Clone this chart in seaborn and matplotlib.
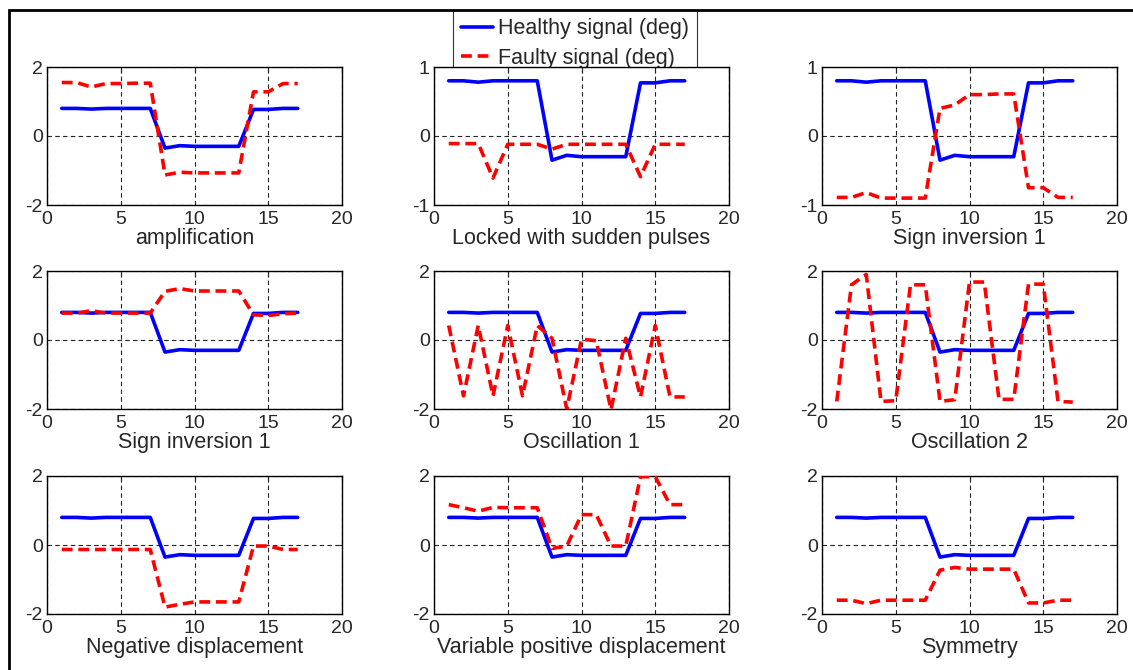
import matplotlib
matplotlib.use("Agg")
import matplotlib.pyplot as plt
import seaborn as sns
import numpy as np
from matplotlib.lines import Line2D
from matplotlib.patches import Rectangle

# sample index
x = np.arange(1, 18)

# healthy signal, same in every panel
healthy = [0.8, 0.8, 0.78, 0.8, 0.8, 0.8, 0.8, -0.35, -0.28, -0.3, -0.3, -0.3, -0.3,
           0.77, 0.77, 0.8, 0.8]

# faulty signals, one per fault type
amplification = [1.55, 1.55, 1.42, 1.52, 1.52, 1.53, 1.53, -1.13, -1.05, -1.07, -1.07,
                 -1.07, -1.07, 1.28, 1.28, 1.52, 1.52]
locked_pulses = [-0.11, -0.11, -0.11, -0.61, -0.12, -0.12, -0.12, -0.19, -0.12, -0.12,
                 -0.12, -0.12, -0.12, -0.59, -0.12, -0.12, -0.12]
sign_inv_a = [-0.89, -0.89, -0.82, -0.9, -0.9, -0.9, -0.9, 0.4, 0.45, 0.6, 0.6, 0.61,
              0.61, -0.75, -0.75, -0.89, -0.89]
sign_inv_b = [0.78, 0.78, 0.85, 0.78, 0.78, 0.78, 0.78, 1.41, 1.49, 1.42, 1.42, 1.42,
              1.42, 0.73, 0.71, 0.76, 0.78]
oscillation_1 = [0.42, -1.62, 0.42, -1.62, 0.42, -1.62, 0.42, 0.05, -2.0, 0.02, -0.02,
                 -2.02, 0.05, -1.65, 0.42, -1.65, -1.65]
oscillation_2 = [-1.78, 1.6, 1.9, -1.78, -1.76, 1.6, 1.6, -1.78, -1.73, 1.68, 1.68,
                 -1.72, -1.72, 1.62, 1.62, -1.78, -1.8]
neg_displacement = [-0.13, -0.13, -0.13, -0.13, -0.13, -0.13, -0.13, -1.8, -1.72, -1.65,
                    -1.65, -1.65, -1.65, -0.03, -0.03, -0.13, -0.13]
var_pos_displacement = [1.17, 1.08, 0.98, 1.09, 1.08, 1.08, 1.08, -0.1, -0.03, 0.88, 0.88,
                        -0.03, -0.03, 1.98, 1.98, 1.17, 1.17]
symmetry = [-1.6, -1.6, -1.7, -1.6, -1.6, -1.6, -1.6, -0.73, -0.65, -0.7, -0.7, -0.7,
            -0.7, -1.68, -1.68, -1.6, -1.6]

faulty = [amplification, locked_pulses, sign_inv_a,
          sign_inv_b, oscillation_1, oscillation_2,
          neg_displacement, var_pos_displacement, symmetry]
titles = ["amplification", "Locked with sudden pulses", "Sign inversion 1",
          "Sign inversion 1", "Oscillation 1", "Oscillation 2",
          "Negative displacement", "Variable positive displacement", "Symmetry"]
ylims = [2, 1, 1, 2, 2, 2, 2, 2, 2]

sns.set_style("white")
plt.rcParams["font.family"] = ["Liberation Sans", "DejaVu Sans"]
plt.rcParams["axes.unicode_minus"] = False

W, H = 1133, 670
fig = plt.figure(figsize=(W / 100, H / 100), dpi=100)

# outer frame
fig.patches.append(Rectangle((9 / W, -0.01), 1.02, 1 - 10 / H + 0.01, transform=fig.transFigure,
                             fill=False, edgecolor="black", linewidth=2, zorder=0))

col_left = [47, 434, 822]
row_top = [67, 271, 476]
ax_w, ax_h = 295, 138

dash = (0, (3, 1.6))
for i in range(9):
    r, c = divmod(i, 3)
    ax = fig.add_axes([col_left[c] / W, 1 - (row_top[r] + ax_h) / H, ax_w / W, ax_h / H])
    sns.lineplot(x=x, y=healthy, ax=ax, color="blue", linewidth=2.6, zorder=3)
    sns.lineplot(x=x, y=faulty[i], ax=ax, color="red", linewidth=2.6, zorder=3,
                 linestyle=dash)
    lim = ylims[i]
    ax.set_xlim(0, 20)
    ax.set_ylim(-lim, lim)
    ax.set_xticks([0, 5, 10, 15, 20])
    ax.set_yticks([-lim, 0, lim])
    ax.grid(True, color="#222222", linestyle=(0, (4, 3)), linewidth=0.8)
    ax.tick_params(direction="in", top=True, right=True, length=4, width=0.8,
                   labelsize=14)
    ax.tick_params(axis="x", pad=4)
    ax.tick_params(axis="y", pad=3)
    for s in ax.spines.values():
        s.set_color("black")
        s.set_linewidth(1)
    ax.set_xlabel(titles[i], fontsize=15.5, labelpad=0)

# legend sits behind the middle top panel, so its lower edge is hidden
handles = [Line2D([], [], color="blue", linewidth=2.6),
           Line2D([], [], color="red", linewidth=2.6, linestyle=dash)]
leg = fig.legend(handles, ["Healthy signal (deg)", "Faulty signal (deg)"],
                 loc="upper left", bbox_to_anchor=(453 / W, 1 - 10 / H),
                 fontsize=15.5, frameon=True, fancybox=False, borderpad=0.38,
                 handlelength=1.5, handletextpad=0.2, labelspacing=0.39,
                 borderaxespad=0)
leg.get_frame().set_edgecolor("black")
leg.get_frame().set_linewidth(0.8)
leg.set_zorder(-1)

fig.savefig("out.png", dpi=100)
